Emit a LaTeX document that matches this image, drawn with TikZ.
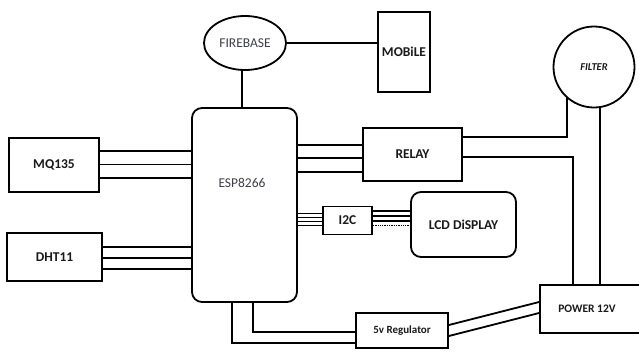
\documentclass[tikz,border=0pt]{standalone}
\usepackage{fontspec}
\setmainfont{Carlito}
\usetikzlibrary{shapes.geometric}
\definecolor{txtgray}{HTML}{3F3F4A}
\definecolor{txtdark}{HTML}{1A1A1A}
\begin{document}
\begin{tikzpicture}[x=1pt,y=-1pt,line width=1.8pt,
  box/.style={draw,rectangle,inner sep=0pt,font=\fontsize{13.5}{15}\selectfont\bfseries,text=txtdark},
  rbox/.style={box,rounded corners=10pt},
  wire/.style={line width=1.8pt},
  thinwire/.style={line width=1.3pt}]
\useasboundingbox (0,0) rectangle (639,351);
\clip (0,0) rectangle (639,351);
\fill[white] (0,0) rectangle (639,351);
% nodes
\node[draw,ellipse,minimum width=82pt,minimum height=54pt,inner sep=0pt,
      font=\fontsize{13.5}{15}\selectfont,text=txtgray] (fb) at (245,43) {FIREBASE};
\node[box,minimum width=52pt,minimum height=80pt] (mob) at (404,52) {MOBiLE};
\node[rbox,minimum width=105pt,minimum height=194pt] (esp) at (244.5,205) {};
\node[font=\fontsize{13.5}{15}\selectfont,text=txtgray] (esptxt) at (242,183) {ESP8266};
\node[box,minimum width=90pt,minimum height=54pt] (mq) at (54,165) {MQ135};
\node[box,minimum width=95pt,minimum height=48pt] (dht) at (54.5,257) {DHT11};
\node[box,minimum width=99pt,minimum height=53pt] (relay) at (412.5,154.5) {RELAY};
\node[draw,circle,minimum size=81pt,inner sep=0pt,
      font=\fontsize{10.5}{12}\selectfont\bfseries\itshape,text=txtdark] (filter) at (594,67) {FILTER};
\node[box,minimum width=49pt,minimum height=28pt] (i2c) at (347.5,220.5) {I2C};
\node[rbox,minimum width=105pt,minimum height=65pt] (lcd) at (463.5,224.5) {LCD DiSPLAY};
\node[box,minimum width=92pt,minimum height=35pt,font=\fontsize{11}{13}\selectfont\bfseries] (reg) at (402,330.5) {5v Regulator};
\node[box,minimum width=130pt,minimum height=48pt] (pwr) at (605,309) {};
\node[font=\fontsize{11.5}{13}\selectfont\bfseries,text=txtdark] (pwrtxt) at (587,309) {POWER 12V};
% helper coordinates
\path (pwr.north west) ++(34,0) coordinate (pa);
\path (pwr.north west) ++(61,0) coordinate (pb);
\path (esp.south) ++(-12.5,0) coordinate (e1);
\path (esp.south) ++(8.5,0) coordinate (e2);
\path (filter.center) ++(-27,29.5) coordinate (fa);
% connectors
\draw[wire] (fb.east) -- (fb.east -| mob.west);
\draw[wire] (fb.south -| 242,0) -- (esp.north -| 242,0);
\foreach \yy in {151,164.5,178} \draw[wire] (mq.east |- 0,\yy) -- (esp.west |- 0,\yy);
\foreach \yy in {247,258,269} \draw[wire] (dht.east |- 0,\yy) -- (esp.west |- 0,\yy);
\foreach \yy in {145,158,172} \draw[wire] (esp.east |- 0,\yy) -- (relay.west |- 0,\yy);
\foreach \yy in {213.5,217.5,221.5,225.5} \draw[thinwire] (esp.east |- 0,\yy) -- (i2c.west |- 0,\yy);
\foreach \yy in {211,216,221} \draw[thinwire] (i2c.east |- 0,\yy) -- (lcd.west |- 0,\yy);
\draw[thinwire,densely dotted] (i2c.east |- 0,225.5) -- (lcd.west |- 0,225.5);
\draw[wire] (relay.east |- 0,137) -| (fa);
\draw[wire] (relay.east |- 0,157) -| (pa);
\draw[wire] (pb) -- (pb |- filter.south);
\draw[wire] (e1) |- (reg.west |- 0,343);
\draw[wire] (e2) |- (reg.west |- 0,332);
\draw[wire] (reg.east |- 0,325) -- (pwr.west |- 0,302);
\draw[wire] (reg.east |- 0,336) -- (pwr.west |- 0,313);
\end{tikzpicture}
\end{document}
